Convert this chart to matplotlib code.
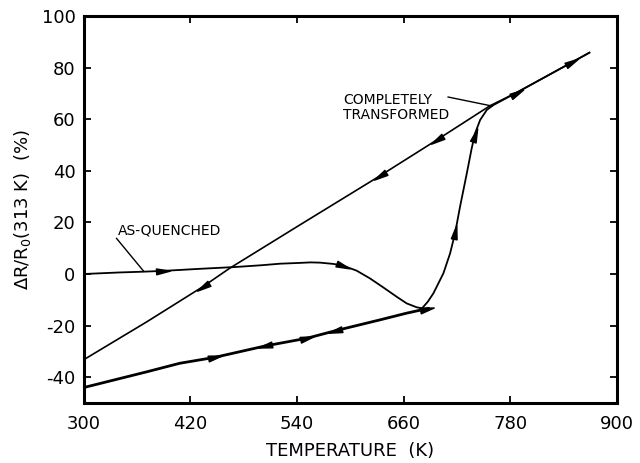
import numpy as np
import matplotlib
matplotlib.use("Agg")
import matplotlib.pyplot as plt
from matplotlib.path import Path
from matplotlib.markers import MarkerStyle
from matplotlib.transforms import Affine2D

plt.rcParams["axes.unicode_minus"] = False

# ---- data ----
# as-quenched sample, heating (continues along transformed line)
heat_T = [300, 340, 367, 389, 430, 470, 500, 521, 543, 555, 566, 581, 592, 607, 622,
          637, 652, 663.4, 674.6, 680.6, 687, 693.4, 704.7, 712.2, 717.8, 723.4, 731,
          736.5, 740.3, 746, 753.5, 761, 787, 849, 869]
heat_R = [0.0, 0.6, 0.9, 1.2, 2.0, 2.7, 3.4, 4.0, 4.3, 4.5, 4.4, 3.9, 3.2, 1.3, -1.7,
          -5.2, -8.8, -11.4, -12.9, -13.3, -10.8, -7.5, 0.3, 8.0, 15.8, 26.1, 39.0,
          48.7, 54.5, 59.7, 63.6, 65.5, 70.3, 82.0, 85.8]
# completely transformed, cooling
cool_T = [869, 849, 787, 757, 697, 633, 543, 464, 434, 371, 300]
cool_R = [85.8, 82.0, 70.3, 65.2, 51.9, 38.0, 19.0, 2.2, -4.9, -18.5, -33.2]
# partially transformed, reversible heating / cooling
low_T = [300, 371, 408, 447.5, 504, 551, 583, 633, 663, 688]
low_R = [-44.0, -37.9, -34.6, -32.3, -27.9, -24.9, -22.0, -17.8, -15.2, -13.3]

# arrow positions (temperature, direction +1 heating / -1 cooling)
heat_arrows = [(389, 1), (592, 1), (718, 1), (740, 1), (787, 1), (849, 1)]
cool_arrows = [(434, -1), (633, -1), (697, -1)]
low_arrows = [(447.5, 1), (504, -1), (551, 1), (583, -1), (686, 1)]

x_ticks = [300, 420, 540, 660, 780, 900]
y_ticks = [-40, -20, 0, 20, 40, 60, 80, 100]

fig = plt.figure(figsize=(6.4, 4.63), dpi=100)
ax = fig.add_axes([0.131, 0.1296, 0.833, 0.8358])
ax.set_xlim(300, 900)
ax.set_ylim(-50, 100)

ax.plot(heat_T, heat_R, color="k", lw=1.3, solid_joinstyle="round")
ax.plot(cool_T, cool_R, color="k", lw=1.2)
ax.plot(low_T, low_R, color="k", lw=2.0, solid_capstyle="round")

tri = Path([(-1.0, -0.42), (1.0, 0.0), (-1.0, 0.42), (-1.0, -0.42)],
           [Path.MOVETO, Path.LINETO, Path.LINETO, Path.CLOSEPOLY])


def draw_arrows(T, R, arrows):
    T = np.asarray(T, float)
    R = np.asarray(R, float)
    order = np.argsort(T)
    Ts, Rs = T[order], R[order]
    for t, d in arrows:
        y = np.interp(t, Ts, Rs)
        t2 = t + 1.5 * d
        y2 = np.interp(t2, Ts, Rs)
        p1 = ax.transData.transform((t, y))
        p2 = ax.transData.transform((t2, y2))
        ang = np.degrees(np.arctan2(p2[1] - p1[1], p2[0] - p1[0]))
        m = MarkerStyle(tri, transform=Affine2D().rotate_deg(ang))
        ax.plot([t], [y], marker=m, color="k", markersize=10, linestyle="none")


draw_arrows(heat_T, heat_R, heat_arrows)
draw_arrows(cool_T, cool_R, cool_arrows)
draw_arrows(low_T, low_R, low_arrows)

# annotations
ax.text(338, 16.7, "AS-QUENCHED", fontsize=10, va="center", ha="left")
ax.plot([336.8, 366.8], [13.8, 1.3], color="k", lw=1.0)
ax.text(591.7, 64.5, "COMPLETELY\nTRANSFORMED", fontsize=10, va="center", ha="left",
        linespacing=1.05)
ax.plot([710, 759.5], [68.6, 65.1], color="k", lw=1.0)

ax.set_xticks(x_ticks)
ax.set_yticks(y_ticks)
ax.tick_params(direction="in", length=5, width=1.3, top=True, right=True,
               labelsize=13, pad=6)
ax.tick_params(axis="x", pad=9)
for s in ax.spines.values():
    s.set_linewidth(2.2)

ax.set_xlabel("TEMPERATURE  (K)", fontsize=13, labelpad=6)
ax.set_ylabel(r"$\Delta$R/R$_\mathregular{0}$(313 K)  (%)", fontsize=13, labelpad=6)

fig.savefig("out.png", dpi=100)
